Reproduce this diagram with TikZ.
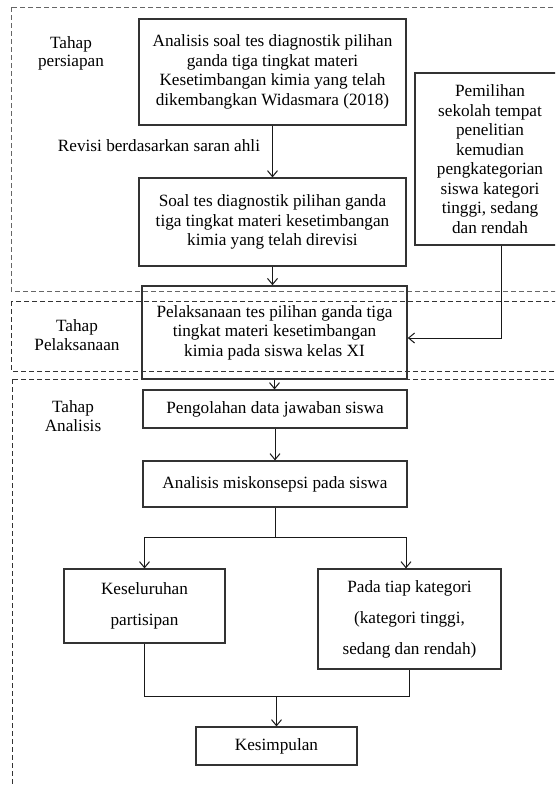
\documentclass[tikz,border=0pt]{standalone}
\usepackage{fontspec}
\setmainfont{Liberation Serif}
\usetikzlibrary{arrows.meta}
\begin{document}
\begin{tikzpicture}[x=1pt,y=-1pt,
  box/.style={draw=black!80, line width=1.2pt, align=center, inner sep=0pt, font=\fontsize{17.2}{19.5}\selectfont},
  wide/.style={box, font=\fontsize{17.2}{31}\selectfont},
  lbl/.style={align=center, inner sep=0pt, font=\fontsize{17.2}{18.5}\selectfont},
  frame/.style={draw=black!80, line width=1pt, dash pattern=on 5pt off 3pt},
  arr/.style={draw=black!90, line width=1pt, -{Straight Barb[length=6pt,width=10pt]}},
  ln/.style={draw=black!90, line width=1pt}]
\useasboundingbox (0,0) rectangle (555,785);
\clip (0,0) rectangle (555,785);

% phase frames
\draw[frame, draw=black!60] (11,7) rectangle (562,291);
\draw[frame] (11,301) rectangle (562,371);
\draw[frame] (12,379) rectangle (562,792);

% phase labels
\node[lbl] (pers) at (71,53.5) {Tahap\\persiapan};
\node[lbl] (pel) at (77,335) {Tahap\\Pelaksanaan};
\node[lbl] (ana) at (73,416) {Tahap\\Analisis};

% boxes
\node[box, minimum width=267pt, minimum height=106pt] (b1) at (272.5,72)
  {Analisis soal tes diagnostik pilihan\\ganda tiga tingkat materi\\Kesetimbangan kimia yang telah\\dikembangkan Widasmara (2018)};
\node[box, minimum width=267pt, minimum height=88pt] (b2) at (272.5,222)
  {Soal tes diagnostik pilihan ganda\\tiga tingkat materi kesetimbangan\\kimia yang telah direvisi};
\node[box, minimum width=150pt, minimum height=172pt] (rb) at (490,159)
  {Pemilihan\\sekolah tempat\\penelitian\\kemudian\\pengkategorian\\siswa kategori\\tinggi, sedang\\dan rendah};
\node[box, line width=1.6pt, minimum width=265pt, minimum height=93pt] (pb) at (274.5,332.5)
  {Pelaksanaan tes pilihan ganda tiga\\tingkat materi kesetimbangan\\kimia pada siswa kelas XI};
\node[box, minimum width=264pt, minimum height=38pt] (b4) at (275,409)
  {Pengolahan data jawaban siswa};
\node[box, minimum width=264pt, minimum height=46pt] (b5) at (275,484)
  {Analisis miskonsepsi pada siswa};
\node[wide, minimum width=161pt, minimum height=74pt] (b6) at (144.5,606)
  {Keseluruhan\\partisipan};
\node[wide, minimum width=183pt, minimum height=100pt] (b7) at (409.5,619)
  {Pada tiap kategori\\(kategori tinggi,\\sedang dan rendah)};
\node[box, minimum width=161pt, minimum height=38pt] (b8) at (276.5,746)
  {Kesimpulan};

\node[lbl] (rev) at (159,146) {Revisi berdasarkan saran ahli};

% connectors
\draw[arr] (b1.south) -- (b2.north);
\draw[arr] (b2.south) -- (b2.south |- pb.north);
\draw[arr] ([xshift=11pt]rb.south) |- ([yshift=-5.5pt]pb.east);
\draw[arr] (pb.south) -- (pb.south |- b4.north);
\draw[arr] (b4.south) -- (b5.north);

\coordinate (split) at (276,537);
\draw[ln] (b5.south) -- (b5.south |- split);
\draw[arr] (b5.south |- split) -| (b6.north);
\draw[arr] (b5.south |- split) -| ([xshift=-3.5pt]b7.north);

\coordinate (join) at (277,696);
\draw[ln] (b6.south) |- (b7.south |- join) -- (b7.south);
\draw[arr] (b8.north |- join) -- (b8.north);
\end{tikzpicture}
\end{document}
